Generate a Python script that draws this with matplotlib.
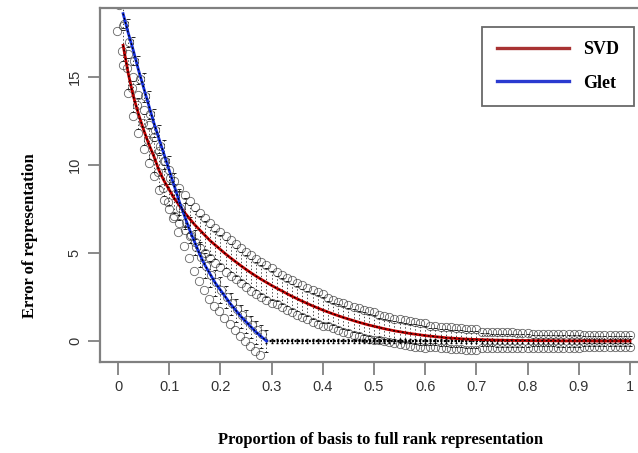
import numpy as np
import matplotlib
matplotlib.use("Agg")
import matplotlib.pyplot as plt
from matplotlib.lines import Line2D

# proporcion de la base respecto a la representacion de rango completo
proporcion = [0.01, 0.02, 0.03, 0.04, 0.05, 0.06, 0.07, 0.08, 0.09, 0.10,
              0.11, 0.12, 0.13, 0.14, 0.15, 0.16, 0.17, 0.18, 0.19, 0.20,
              0.21, 0.22, 0.23, 0.24, 0.25, 0.26, 0.27, 0.28, 0.29, 0.30,
              0.31, 0.32, 0.33, 0.34, 0.35, 0.36, 0.37, 0.38, 0.39, 0.40,
              0.41, 0.42, 0.43, 0.44, 0.45, 0.46, 0.47, 0.48, 0.49, 0.50,
              0.51, 0.52, 0.53, 0.54, 0.55, 0.56, 0.57, 0.58, 0.59, 0.60,
              0.61, 0.62, 0.63, 0.64, 0.65, 0.66, 0.67, 0.68, 0.69, 0.70,
              0.71, 0.72, 0.73, 0.74, 0.75, 0.76, 0.77, 0.78, 0.79, 0.80,
              0.81, 0.82, 0.83, 0.84, 0.85, 0.86, 0.87, 0.88, 0.89, 0.90,
              0.91, 0.92, 0.93, 0.94, 0.95, 0.96, 0.97, 0.98, 0.99, 1.00]

# error medio SVD
svd = [16.8, 15.2, 13.9, 12.9, 12.0, 11.2, 10.5, 9.7, 9.1, 8.6,
       8.1, 7.7, 7.3, 6.95, 6.6, 6.3, 6.0, 5.7, 5.45, 5.2,
       4.95, 4.72, 4.5, 4.28, 4.07, 3.87, 3.68, 3.5, 3.33, 3.16,
       3.0, 2.85, 2.69, 2.54, 2.4, 2.26, 2.13, 2.0, 1.88, 1.76,
       1.65, 1.54, 1.44, 1.34, 1.25, 1.16, 1.07, 0.99, 0.91, 0.84,
       0.77, 0.7, 0.64, 0.58, 0.53, 0.48, 0.43, 0.39, 0.35, 0.31,
       0.28, 0.25, 0.22, 0.19, 0.17, 0.15, 0.13, 0.11, 0.1, 0.09,
       0.08, 0.07, 0.06, 0.05, 0.05, 0.04, 0.04, 0.03, 0.03, 0.03,
       0.02, 0.02, 0.02, 0.02, 0.02, 0.01, 0.01, 0.01, 0.01, 0.01,
       0.01, 0.01, 0.0, 0.0, 0.0, 0.0, 0.0, 0.0, 0.0, 0.0]

# error medio Glet (llega a cero cerca de 0.29)
glet = [18.6, 17.5, 16.5, 15.4, 14.4, 13.4, 12.4, 11.5, 10.6, 9.7,
        8.8, 7.9, 7.1, 6.3, 5.6, 4.9, 4.3, 3.8, 3.3, 2.9,
        2.5, 2.1, 1.75, 1.4, 1.1, 0.8, 0.5, 0.25, 0.0]

# dispersion por tramo de 0.1
svd_disp = [1.1, 1.0, 1.0, 0.9, 0.8, 0.7, 0.6, 0.45, 0.4, 0.35]
glet_disp = [1.0, 0.9, 0.8]

svd_sd = np.repeat(svd_disp, 10)
glet_sd = np.repeat(glet_disp, 10)[:len(glet)]

x = np.array(proporcion)
xs = np.array(svd)
xg = np.array(glet)
xgl = x[:len(glet)]
n0 = len(glet) - 1

fig = plt.figure(figsize=(6.38, 4.53), dpi=100)
ax = fig.add_axes([100/638, 1 - 362/453, 538/638, 354/453])

gris = "#808080"
circ = dict(ls="none", marker="o", ms=6, mfc="none", mec="#333333", mew=0.6, alpha=0.75)
barras = dict(fmt="none", ecolor="black", elinewidth=0.5, capsize=1.5, capthick=0.6, zorder=2)

# linea cero de Glet despues de 0.29
ax.plot(x[n0:], np.zeros(len(x) - n0), color="black", lw=1.6, ls=(0, (1, 0.6)), zorder=3)
ax.errorbar(x[n0:], np.zeros(len(x) - n0), yerr=0.12, fmt="none",
            ecolor="black", elinewidth=0.6, capsize=1, zorder=3)

# SVD
eb = ax.errorbar(x, xs, yerr=svd_sd * 0.8, **barras)
eb[2][0].set_linestyle((0, (2, 3)))
ax.plot(x, xs + svd_sd, **circ)
ax.plot(x, xs - svd_sd, **circ)
ax.plot(x, xs, color="#c00000", lw=2.0, zorder=4)
ax.plot(x, xs, color="black", lw=0.9, ls=(0, (1.5, 2)), zorder=5)

# Glet
eb = ax.errorbar(xgl, xg, yerr=glet_sd * 0.8, **barras)
eb[2][0].set_linestyle((0, (2, 3)))
ax.plot(xgl - 0.008, xg + glet_sd * 0.5, **circ)
ax.plot(xgl - 0.012, xg - glet_sd, **circ)
ax.plot(xgl, xg, color="#1530e0", lw=2.0, zorder=4)
ax.plot(xgl, xg, color="black", lw=0.9, ls=(0, (1.5, 2)), zorder=5)

ax.set_xlim((100 - 118) / 512, (638 - 118) / 512)
ax.set_ylim(-1.19, 18.92)

ax.set_xticks([0, 0.1, 0.2, 0.3, 0.4, 0.5, 0.6, 0.7, 0.8, 0.9, 1])
ax.set_xticklabels(["0", "0.1", "0.2", "0.3", "0.4", "0.5", "0.6", "0.7", "0.8", "0.9", "1"])
ax.set_yticks([0, 5, 10, 15])
for lab in ax.get_yticklabels():
    lab.set_rotation(90)
    lab.set_va("center")

ax.tick_params(axis="both", colors=gris, length=9, width=1.3, labelcolor="#333333",
               labelsize=10.5, pad=4)
plt.setp(ax.get_xticklabels(), family="Liberation Sans")
plt.setp(ax.get_yticklabels(), family="Liberation Sans")

for lado in ["left", "bottom", "top"]:
    ax.spines[lado].set_color(gris)
    ax.spines[lado].set_linewidth(1.6)
ax.spines["right"].set_visible(False)

ax.set_xlabel("Proportion of basis to full rank representation", family="Liberation Serif",
              fontweight="bold", fontsize=12)
ax.xaxis.set_label_coords((381 - 100) / 538, (362 - 432) / 354)
ax.set_ylabel("Error of representation", family="Liberation Serif", fontweight="bold",
              fontsize=12)
ax.yaxis.set_label_coords((38 - 100) / 538, (362 - 236) / 354)

manejos = [Line2D([], [], color="#a83232", lw=2.4), Line2D([], [], color="#2a3ad0", lw=2.4)]
leg = ax.legend(manejos, ["SVD", "Glet"], loc="upper right",
                bbox_to_anchor=((634 - 100) / 538, (362 - 27) / 354),
                prop={"family": "Liberation Serif", "weight": "bold", "size": 13},
                handlelength=4.0, frameon=True, fancybox=False, shadow=False,
                borderpad=0.8, labelspacing=0.9, handletextpad=0.8, borderaxespad=0)
leg.get_frame().set_edgecolor("#444444")
leg.get_frame().set_linewidth(1.3)

fig.savefig("out.png", dpi=100)
